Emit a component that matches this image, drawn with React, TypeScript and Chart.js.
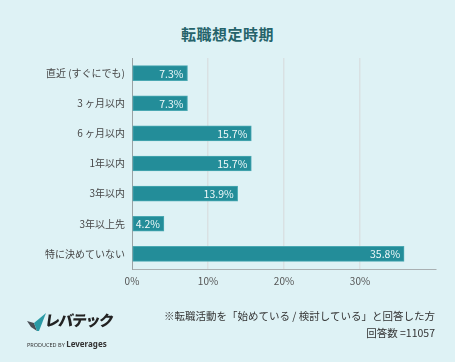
import React, { useEffect, useRef } from "react";
import { Chart, registerables } from "chart.js";

Chart.register(...registerables);

const title = "転職想定時期";
const categories = [
  "直近 (すぐにでも)",
  "3 ヶ月以内",
  "6 ヶ月以内",
  "1年以内",
  "3年以内",
  "3年以上先",
  "特に決めていない",
];
const values = [7.3, 7.3, 15.7, 15.7, 13.9, 4.2, 35.8];
const xTicks = [0, 10, 20, 30];
const xMax = 40;
const note1 = "※転職活動を「始めている / 検討している」と回答した方";
const note2 = "回答数 =11057";

const FONT = "'Noto Sans CJK JP', 'Noto Sans', sans-serif";

const valueLabels = {
  id: "valueLabels",
  afterDatasetsDraw(chart: any) {
    const ctx = chart.ctx;
    const meta = chart.getDatasetMeta(0);
    ctx.save();
    ctx.font = `10.5px ${FONT}`;
    ctx.fillStyle = "#eef8f9";
    ctx.textAlign = "right";
    ctx.textBaseline = "middle";
    meta.data.forEach((bar: any, i: number) => {
      ctx.fillText(values[i].toFixed(1) + "%", bar.x - 4, bar.y + 0.5);
    });
    ctx.restore();
  },
};

export default function App() {
  const ref = useRef<HTMLCanvasElement>(null);
  useEffect(() => {
    document.body.style.margin = "0";
    const chart = new Chart(ref.current!, {
      type: "bar",
      data: {
        labels: categories,
        datasets: [
          {
            data: values,
            backgroundColor: "#238d99",
            borderColor: "#4aa8b2",
            borderWidth: 1,
            borderSkipped: false,
            barThickness: 15,
          },
        ],
      },
      options: {
        indexAxis: "y",
        animation: false,
        responsive: false,
        maintainAspectRatio: false,
        layout: { padding: { top: 58, right: 19, bottom: 68, left: 0 } },
        plugins: { legend: { display: false }, tooltip: { enabled: false }, title: { display: false } },
        scales: {
          x: {
            min: 0,
            max: xMax,
            afterBuildTicks(scale: any) {
              scale.ticks = [...xTicks, xMax].map((v) => ({ value: v }));
            },
            afterFit(scale: any) {
              scale.height = 25;
            },
            ticks: {
              padding: 6,
              color: "#555",
              font: { family: FONT, size: 10 },
              callback: (v: any) => (xTicks.includes(Number(v)) ? v + "%" : ""),
            },
            grid: {
              drawTicks: false,
              color: (c: any) =>
                c.tick && (c.tick.value === 0 || c.tick.value === xMax) ? "rgba(0,0,0,0)" : "#d9e1e3",
              lineWidth: 1.5,
            },
            border: { display: true, color: "#a9b0b2", width: 1 },
          },
          y: {
            afterFit(scale: any) {
              scale.width = 132;
            },
            ticks: {
              padding: 7,
              color: "#474747",
              font: { family: FONT, size: 10 },
            },
            grid: { display: false, drawTicks: false },
            border: { display: true, color: "#9aa2a4", width: 1 },
          },
        },
      },
      plugins: [valueLabels],
    });
    return () => chart.destroy();
  }, []);

  return (
    <div
      style={{
        position: "relative",
        width: 455,
        height: 362,
        background: "#def2f5",
        fontFamily: FONT,
        overflow: "hidden",
      }}
    >
      <div
        style={{
          position: "absolute",
          top: 23,
          left: 0,
          width: 455,
          textAlign: "center",
          fontSize: 15,
          fontWeight: 700,
          color: "#25636a",
          letterSpacing: 0.5,
        }}
      >
        {title}
      </div>
      <canvas ref={ref} width={455} height={362} style={{ position: "absolute", left: 0, top: 0 }} />
      <div
        style={{
          position: "absolute",
          right: 20,
          top: 307,
          textAlign: "right",
          fontSize: 10.5,
          lineHeight: "17px",
          color: "#333",
        }}
      >
        <div>{note1}</div>
        <div>{note2}</div>
      </div>
      <div style={{ position: "absolute", left: 26, top: 310, width: 90, height: 32 }}>
        <svg width="22" height="20" viewBox="0 0 22 20" style={{ position: "absolute", left: 1, top: 3 }}>
          <polygon points="0,8 7,10 10,18 4,14" fill="#4a4f55" />
          <polygon points="7,10 19,0 12,18 10,18" fill="#2a9aa5" />
        </svg>
        <div
          style={{
            position: "absolute",
            left: 19,
            top: 0,
            fontSize: 15,
            lineHeight: "20px",
            fontWeight: 900,
            color: "#222",
            letterSpacing: -1.5,
            whiteSpace: "nowrap",
            transform: "skewX(-8deg)",
          }}
        >
          レバテック
        </div>
        <div
          style={{
            position: "absolute",
            left: 1,
            top: 20,
            whiteSpace: "nowrap",
            color: "#333",
            fontFamily: "'Noto Sans', sans-serif",
          }}
        >
          <span style={{ fontSize: 5.5, letterSpacing: 0 }}>PRODUCED BY </span>
          <span style={{ fontSize: 8, fontWeight: 700 }}>Leverages</span>
        </div>
      </div>
    </div>
  );
}
